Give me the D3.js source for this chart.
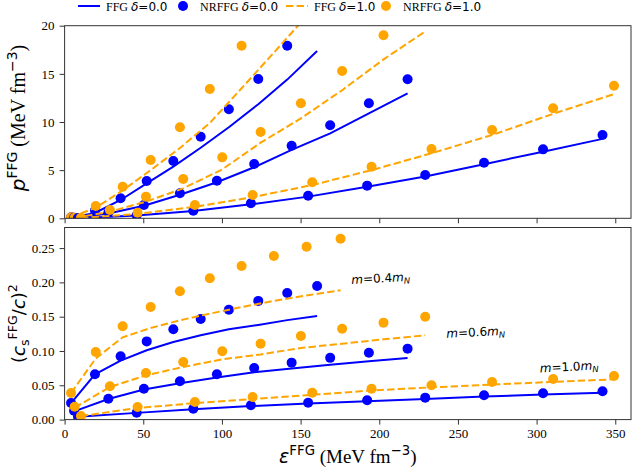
<!DOCTYPE html>
<html>
<head>
<meta charset="utf-8">
<script src="https://cdn.jsdelivr.net/npm/d3@7"></script>
<style>
  body { margin: 0; background: #fff; }
  text { font-family: "Liberation Serif", "DejaVu Serif", serif; fill: #000; }
</style>
</head>
<body>
<svg id="chart"></svg>
<script>
// canvas
const width = 633;
const height = 472;

// tick values
const xTicks = [0, 50, 100, 150, 200, 250, 300, 350];
const pTicks = [0, 5, 10, 15, 20];
const cTicks = [0, 0.05, 0.10, 0.15, 0.20, 0.25];

// masses, in the order m = 0.4, 0.6, 1.0 m_N
const massLabels = ["0.4", "0.6", "1.0"];

// energy density eps^FFG (MeV fm^-3), delta = 0.0
const epsDelta0 = [
    [4.1, 19.3, 35.6, 52.2, 69.1, 86.5, 104.4, 123.1, 141.5, 160.5],
    [6.0, 27.8, 50.4, 73.3, 96.8, 120.5, 144.3, 168.8, 193.4, 218.0],
    [8.5, 45.8, 81.8, 118.4, 154.8, 192.3, 229.2, 266.6, 304.1, 341.9]
];
// energy density, delta = 1.0
const epsDelta1 = [
    [4.1, 19.8, 36.9, 54.7, 73.3, 92.3, 112.5, 133.0, 153.8, 175.4],
    [6.4, 28.8, 51.7, 75.4, 100.2, 124.6, 150.2, 176.4, 202.7, 229.2],
    [10.4, 46.4, 82.8, 119.5, 157.4, 195.1, 233.2, 271.7, 310.5, 349.2]
];

// pressure (MeV fm^-3)
const pFfgDelta0 = [
    [0.05, 0.55, 1.9, 3.63, 5.36, 7.33, 9.45, 11.85, 14.4, 17.37],
    [0.02, 0.5, 1.3, 2.45, 3.75, 5.3, 7.1, 8.82, 10.9, 12.98],
    [0.01, 0.3, 0.75, 1.45, 2.25, 3.28, 4.35, 5.62, 6.92, 8.25]
];
const pNrDelta0 = [
    [0.1, 0.8, 2.08, 3.87, 5.95, 8.47, 11.32, 14.47, 17.92, 21.6],
    [0.05, 0.6, 1.38, 2.6, 3.9, 5.64, 7.54, 9.66, 11.94, 14.43],
    [0.02, 0.32, 0.79, 1.56, 2.35, 3.39, 4.5, 5.77, 7.16, 8.65]
];
const pFfgDelta1 = [
    [0.1, 1.1, 2.9, 5.0, 7.3, 9.9, 13.5, 17.2, 21.0, 25.0],
    [0.03, 0.69, 1.73, 3.11, 5.08, 7.85, 10.38, 13.3, 16.5, 19.4],
    [0.03, 0.45, 1.2, 2.2, 3.45, 5.0, 6.75, 8.65, 10.85, 12.9]
];
const pNrDelta1 = [
    [0.1, 1.28, 3.28, 6.05, 9.45, 13.43, 17.92, 23.0, 28.5, 34.5],
    [0.05, 0.86, 2.25, 4.08, 6.33, 8.96, 11.94, 15.3, 19.0, 23.0],
    [0.05, 0.58, 1.38, 2.42, 3.74, 5.36, 7.2, 9.17, 11.42, 13.77]
];

// squared sound speed (c_s/c)^2
const cFfgDelta0 = [
    [0.024, 0.066, 0.086, 0.101, 0.113, 0.123, 0.1316, 0.138, 0.145, 0.151],
    [0.012, 0.030, 0.044, 0.053, 0.0615, 0.069, 0.0745, 0.080, 0.085, 0.0898],
    [0.004, 0.0098, 0.0152, 0.0197, 0.0235, 0.0268, 0.030, 0.0335, 0.0365, 0.039]
];
const cNrDelta0 = [
    [0.0242, 0.066, 0.0922, 0.114, 0.1316, 0.1466, 0.160, 0.173, 0.1845, 0.1947],
    [0.013, 0.0305, 0.045, 0.0558, 0.066, 0.0752, 0.083, 0.090, 0.0975, 0.1034],
    [0.004, 0.0101, 0.0159, 0.0208, 0.0246, 0.0281, 0.032, 0.0354, 0.0383, 0.0412]
];
const cFfgDelta1 = [
    [0.039, 0.089, 0.120, 0.1335, 0.1447, 0.1544, 0.164, 0.173, 0.181, 0.1885],
    [0.0174, 0.0475, 0.0645, 0.0767, 0.0879, 0.095, 0.1044, 0.1106, 0.117, 0.1229],
    [0.005, 0.017, 0.024, 0.030, 0.036, 0.0425, 0.047, 0.051, 0.055, 0.0587]
];
const cNrDelta1 = [
    [0.0388, 0.0985, 0.136, 0.164, 0.187, 0.206, 0.224, 0.2385, 0.252, 0.2637],
    [0.0188, 0.0485, 0.068, 0.084, 0.0995, 0.1107, 0.1219, 0.1325, 0.1413, 0.150],
    [0.0052, 0.0184, 0.0257, 0.033, 0.0392, 0.045, 0.050, 0.0548, 0.0592, 0.0636]
];

// where the mass annotations sit (data coords of bottom panel, text centre / baseline)
const massNotes = [[201, 0.200], [261.4, 0.1215], [320.8, 0.071]];

const blue = "#0000ff";
const orange = "#ffa500";
const mathFont = "DejaVu Sans";

const svg = d3.select("#chart")
    .attr("width", width)
    .attr("height", height);

// scales
const x = d3.scaleLinear().domain([0, 360]).range([64.6, 631]);
const yP = d3.scaleLinear().domain([0, 20]).range([218.3, 25.7]);
const yC = d3.scaleLinear().domain([0, 0.28]).range([419.6, 227.5]);

// text with italic / superscript / subscript pieces
function rich(g, parts, size) {
    const t = g.append("text").attr("font-size", size);
    let shift = 0;
    parts.forEach(p => {
        const s = t.append("tspan").text(p.t);
        if (p.f) s.attr("font-family", p.f);
        if (p.i) s.attr("font-style", "italic");
        let target = 0;
        if (p.sup) target = -size * 0.42;
        if (p.sub) target = size * 0.22;
        if (p.sup || p.sub) s.attr("font-size", size * 0.7);
        s.attr("dy", target - shift);
        shift = target;
    });
    return t;
}

function panel(yScale, ticks, fmt, id, series) {
    const [x0, x1] = x.range();
    const [yb, yt] = yScale.range();

    svg.append("clipPath").attr("id", id)
        .append("rect").attr("x", x0).attr("y", yt).attr("width", x1 - x0).attr("height", yb - yt);

    const plot = svg.append("g").attr("clip-path", `url(#${id})`);

    const line = d3.line().x(d => x(d[0])).y(d => yScale(d[1]));

    massLabels.forEach((m, i) => {
        const ffg0 = d3.zip(epsDelta0[i], series.ffg0[i]);
        const nr0 = d3.zip(epsDelta0[i], series.nr0[i]);
        const ffg1 = d3.zip(epsDelta1[i], series.ffg1[i]);
        const nr1 = d3.zip(epsDelta1[i], series.nr1[i]);

        plot.append("path").datum(ffg0)
            .attr("fill", "none").attr("stroke", blue).attr("stroke-width", 2)
            .attr("d", line);
        plot.append("g").selectAll("circle").data(nr0).join("circle")
            .attr("cx", d => x(d[0])).attr("cy", d => yScale(d[1])).attr("r", 5)
            .attr("fill", blue);
        plot.append("path").datum(ffg1)
            .attr("fill", "none").attr("stroke", orange).attr("stroke-width", 2)
            .attr("stroke-dasharray", "7.4,3.2")
            .attr("d", line);
        plot.append("g").selectAll("circle").data(nr1).join("circle")
            .attr("cx", d => x(d[0])).attr("cy", d => yScale(d[1])).attr("r", 5)
            .attr("fill", orange);
    });

    // axes
    const ax = svg.append("g")
        .attr("transform", `translate(0,${yb})`)
        .call(d3.axisBottom(x).tickValues(xTicks).tickSize(5).tickPadding(4)
            .tickFormat(series.xLabels ? d3.format("d") : ""));
    const ay = svg.append("g")
        .attr("transform", `translate(${x0},0)`)
        .call(d3.axisLeft(yScale).tickValues(ticks).tickSize(5).tickPadding(5).tickFormat(fmt));
    [ax, ay].forEach(a => {
        a.select(".domain").remove();
        a.selectAll(".tick line").attr("stroke", "#333");
        a.selectAll(".tick text").attr("font-size", 13)
            .attr("font-family", "Liberation Serif");
    });

    svg.append("rect")
        .attr("x", x0).attr("y", yt).attr("width", x1 - x0).attr("height", yb - yt)
        .attr("fill", "none").attr("stroke", "#333").attr("stroke-width", 1);
}

panel(yP, pTicks, d3.format("d"), "clipTop",
    { ffg0: pFfgDelta0, nr0: pNrDelta0, ffg1: pFfgDelta1, nr1: pNrDelta1, xLabels: false });
panel(yC, cTicks, d3.format(".2f"), "clipBottom",
    { ffg0: cFfgDelta0, nr0: cNrDelta0, ffg1: cFfgDelta1, nr1: cNrDelta1, xLabels: true });

// mass annotations
massLabels.forEach((m, i) => {
    const g = svg.append("g")
        .attr("transform", `translate(${x(massNotes[i][0])},${yC(massNotes[i][1])}) rotate(-3)`);
    rich(g, [
        { t: "m", i: true, f: mathFont },
        { t: "=" + m, f: mathFont },
        { t: "m", i: true, f: mathFont },
        { t: "N", i: true, f: mathFont, sub: true }
    ], 12).attr("text-anchor", "middle");
});

// axis titles
rich(svg.append("g").attr("transform", `translate(25,${(yP.range()[0] + yP.range()[1]) / 2 - 4}) rotate(-90)`), [
    { t: "p", i: true, f: mathFont },
    { t: "FFG", f: mathFont, sup: true },
    { t: " (MeV fm" },
    { t: "\u22123", f: mathFont, sup: true },
    { t: ")" }
], 20).attr("text-anchor", "middle");

rich(svg.append("g").attr("transform", `translate(25,${(yC.range()[0] + yC.range()[1]) / 2}) rotate(-90)`), [
    { t: "(", f: mathFont },
    { t: "c", i: true, f: mathFont },
    { t: "s", f: mathFont, sub: true },
    { t: "FFG", f: mathFont, sup: true },
    { t: "/", f: mathFont },
    { t: "c", i: true, f: mathFont },
    { t: ")", f: mathFont },
    { t: "2", f: mathFont, sup: true }
], 18).attr("text-anchor", "middle");

rich(svg.append("g").attr("transform", `translate(${(x.range()[0] + x.range()[1]) / 2},463)`), [
    { t: "\u03b5", i: true, f: mathFont },
    { t: "FFG", f: mathFont, sup: true },
    { t: " (MeV fm" },
    { t: "\u22123", f: mathFont, sup: true },
    { t: ")" }
], 19).attr("text-anchor", "middle");

// legend
const legendItems = [
    { kind: "line", color: blue, label: "FFG ", delta: "0.0", x: 78 },
    { kind: "dot", color: blue, label: "NRFFG ", delta: "0.0", x: 172 },
    { kind: "dash", color: orange, label: "FFG ", delta: "1.0", x: 286 },
    { kind: "dot", color: orange, label: "NRFFG ", delta: "1.0", x: 375 }
];
const legend = svg.append("g");
legendItems.forEach(d => {
    const g = legend.append("g").attr("transform", `translate(${d.x},6)`);
    if (d.kind === "dot") {
        g.append("circle").attr("cx", 11).attr("cy", 0).attr("r", 5).attr("fill", d.color);
    } else {
        g.append("line").attr("x1", 0).attr("x2", 22).attr("y1", 0).attr("y2", 0)
            .attr("stroke", d.color).attr("stroke-width", 2)
            .attr("stroke-dasharray", d.kind === "dash" ? "7.4,3.2" : null);
    }
    rich(g.append("g").attr("transform", "translate(28,4.5)"), [
        { t: d.label },
        { t: "\u03b4", i: true, f: mathFont },
        { t: "=" + d.delta, f: mathFont }
    ], 12);
});
</script>
</body>
</html>
